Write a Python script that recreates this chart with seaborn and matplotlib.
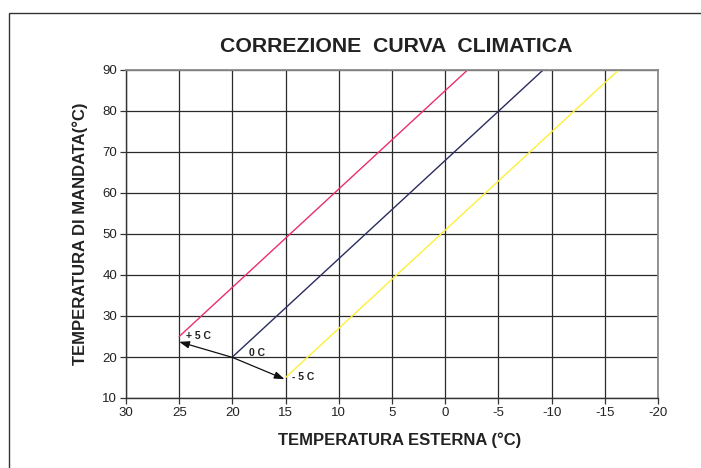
import matplotlib
matplotlib.use("Agg")
import matplotlib.pyplot as plt
import seaborn as sns
import pandas as pd
from matplotlib.patches import Rectangle

sns.set_theme(style="white")
plt.rcParams["font.family"] = ["Liberation Sans", "DejaVu Sans"]

# Heating curves: outdoor temperature (°C) vs flow temperature (°C)
curve_names = ["+ 5 C", "0 C", "- 5 C"]
outdoor_plus5 = [25.0, -2.1]
flow_plus5 = [25.0, 90.0]
outdoor_zero = [20.0, -9.2]
flow_zero = [20.0, 90.0]
outdoor_minus5 = [15.0, -16.3]
flow_minus5 = [15.0, 90.0]
curve_colors = ["#EC2D70", "#2A2C5E", "#FFEF3A"]

# Shift arrows from the 0 C origin to the +5 / -5 starting points
arrow_origin = (20.0, 19.9)
arrow_plus5_tip = (25.0, 23.7)
arrow_minus5_tip = (15.1, 14.6)

x_ticks = [30, 25, 20, 15, 10, 5, 0, -5, -10, -15, -20]
y_ticks = [10, 20, 30, 40, 50, 60, 70, 80, 90]

df = pd.concat([
    pd.DataFrame({"esterna": outdoor_plus5, "mandata": flow_plus5, "curva": curve_names[0]}),
    pd.DataFrame({"esterna": outdoor_zero, "mandata": flow_zero, "curva": curve_names[1]}),
    pd.DataFrame({"esterna": outdoor_minus5, "mandata": flow_minus5, "curva": curve_names[2]}),
])

fig = plt.figure(figsize=(7.01, 4.68), dpi=100)
ax = fig.add_axes([126 / 701, 1 - 398 / 468, (658 - 126) / 701, (398 - 70) / 468])

sns.lineplot(data=df, x="esterna", y="mandata", hue="curva",
             palette=dict(zip(curve_names, curve_colors)),
             linewidth=1.0, legend=False, ax=ax, sort=False, estimator=None)

ax.set_xlim(30, -20)
ax.set_ylim(10, 90)
ax.set_xticks(x_ticks)
ax.set_yticks(y_ticks)
ax.set_xticklabels([str(v) for v in x_ticks], fontsize=9.5, color="#222222")
ax.set_yticklabels([str(v) for v in y_ticks], fontsize=9.5, color="#222222")
ax.grid(True, color="#2a2a2a", linewidth=0.9)
ax.set_axisbelow(True)
for s in ["top", "right"]:
    ax.spines[s].set_color("#8a8a8a")
    ax.spines[s].set_linewidth(1.3)
for s in ["left", "bottom"]:
    ax.spines[s].set_color("#333333")
    ax.spines[s].set_linewidth(1.0)
ax.tick_params(axis="both", which="major", length=4, width=0.9, color="#333333",
               direction="out", bottom=True, left=True, pad=2.5)

# Shift arrows
for tip in (arrow_plus5_tip, arrow_minus5_tip):
    ax.annotate("", xy=tip, xytext=arrow_origin,
                arrowprops=dict(arrowstyle="-|>,head_length=0.5,head_width=0.18",
                                color="#111111", lw=0.9, shrinkA=0, shrinkB=0))

label_kw = dict(fontsize=7.5, fontweight="bold", color="#222222", va="center", ha="left")
ax.text(24.4, 25.2, curve_names[0], **label_kw)
ax.text(18.4, 21.0, curve_names[1], **label_kw)
ax.text(14.4, 15.1, curve_names[2], **label_kw)

ax.set_ylabel("TEMPERATURA DI MANDATA(°C)", fontsize=12, fontweight="bold",
              color="#222222", labelpad=10)
ax.set_xlabel("TEMPERATURA ESTERNA (°C)", fontsize=12, fontweight="bold",
              color="#222222", labelpad=9)
ax.xaxis.set_label_coords((400 - 126) / (658 - 126), -0.105)
fig.text(396 / 701, 1 - 46 / 468, "CORREZIONE  CURVA  CLIMATICA", fontsize=15.3,
         fontweight="bold", color="#222222", ha="center", va="center")

# Outer frame of the chart area
fig.patches.append(Rectangle((9 / 701, -0.1), 1.2, 1 - 13 / 468 + 0.1,
                             transform=fig.transFigure, fill=False,
                             edgecolor="#333333", linewidth=1.0))

fig.savefig("out.png", dpi=100)
